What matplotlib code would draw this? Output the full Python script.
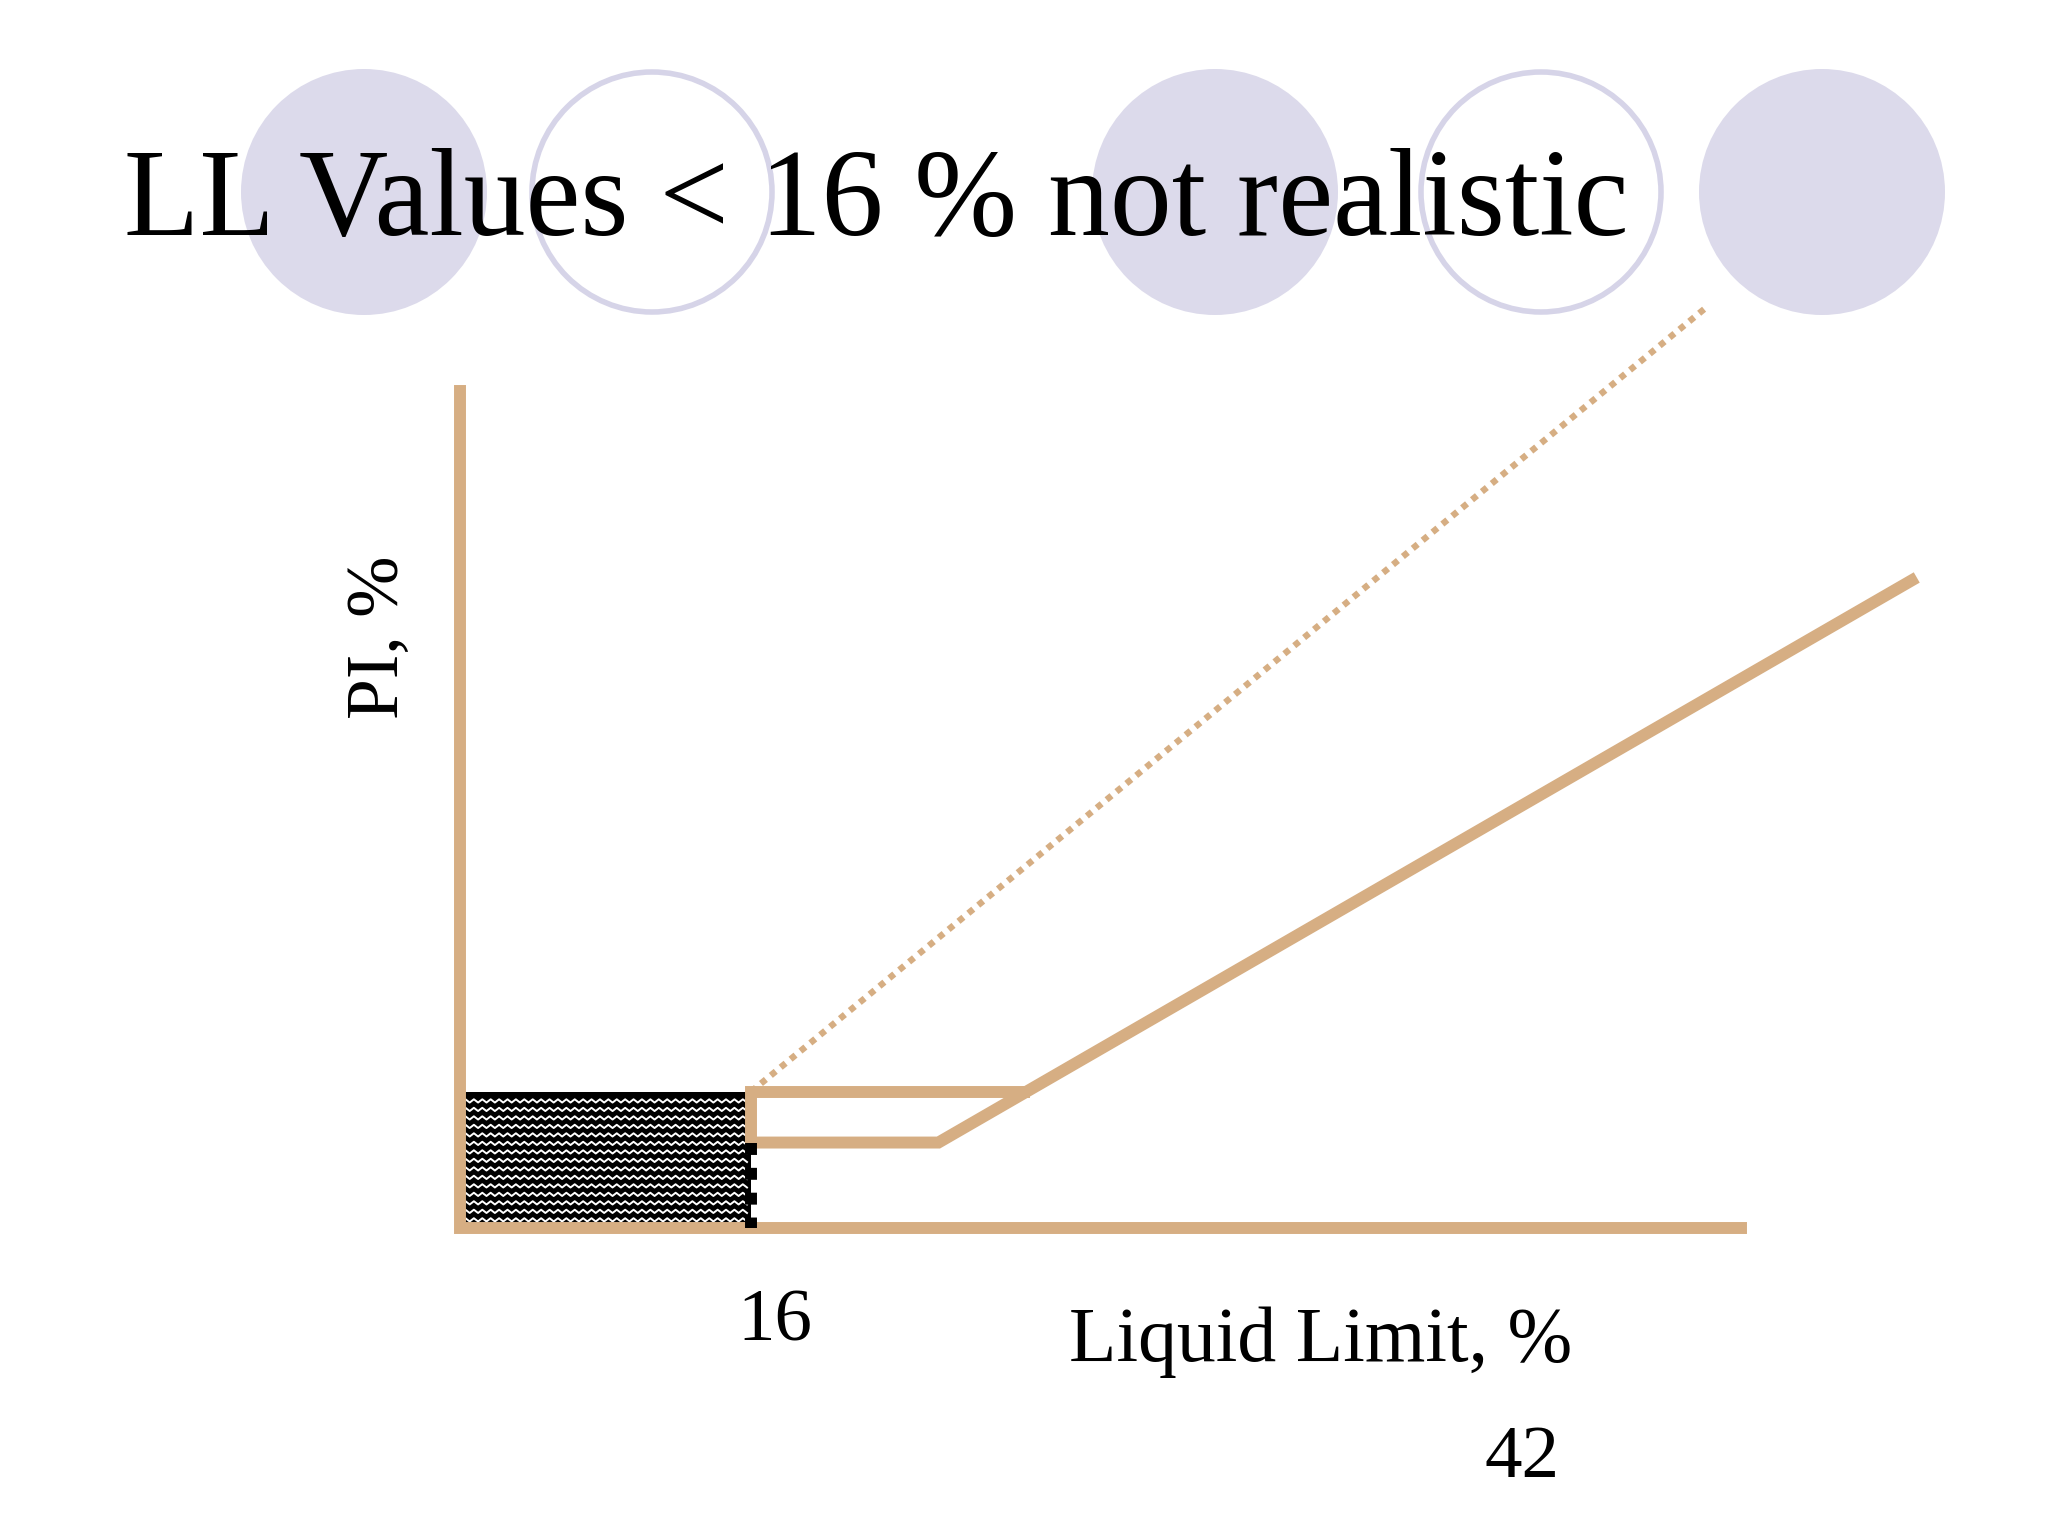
import numpy as np
import matplotlib
matplotlib.use("Agg")
import matplotlib.pyplot as plt
from matplotlib.patches import Circle, Rectangle

# schematic plasticity chart, values in LL / PI units
axis_x = [0, 0, 70.4]
axis_y = [46.0, 0, 0]
box_ll = [0, 16]
box_pi = [0, 7.5]
upper_x = [16, 16, 31.0]
upper_y = [4.7, 7.5, 7.5]
lower_x = [16, 26.3, 79.8]
lower_y = [4.7, 4.7, 35.6]
dotted_x = [16, 68.5]
dotted_y = [7.5, 50.6]
marker_ll = 16
marker_pi = [4.7, 0]

title = "LL Values < 16 % not realistic"
xlabel = "Liquid Limit, %"
ylabel = "PI, %"
ll_labels = [("16", 17.3, -6.2), ("42", 58.4, -13.7)]

# decorative circles at the top of the slide (pixels)
circle_x = [364, 652, 1215, 1541, 1822]
circle_filled = [True, False, True, False, True]

tan = "#d6ae83"
lav = "#dcdaeb"

fig = plt.figure(figsize=(20.48, 15.36), dpi=100)

bg = fig.add_axes([0, 0, 1, 1])
bg.set_xlim(0, 2048)
bg.set_ylim(1536, 0)
bg.axis("off")
for cx, filled in zip(circle_x, circle_filled):
    if filled:
        bg.add_patch(Circle((cx, 192), 123, facecolor=lav, edgecolor="none", zorder=1))
    else:
        bg.add_patch(Circle((cx, 192), 120, facecolor="none", edgecolor="#d6d4e8", lw=4, zorder=1))
bg.text(124, 235, title, fontsize=89, family="Liberation Serif", ha="left", va="baseline", zorder=3)

ax = fig.add_axes([0, 0, 1, 1])
ax.patch.set_alpha(0)
ax.set_xlim(-25.29, 87.30)
ax.set_ylim(-16.93, 67.51)
ax.axis("off")

# hatched black box with white wavy texture
ax.add_patch(Rectangle((box_ll[0], box_pi[0]), box_ll[1] - box_ll[0], box_pi[1] - box_pi[0],
                       facecolor="black", edgecolor="none", zorder=2))
zx = np.arange(box_ll[0] + 0.3, box_ll[1], 0.231)
for row in np.arange(box_pi[0] + 0.45, box_pi[1] - 0.1, 0.467):
    zy = row + np.where(np.arange(len(zx)) % 2 == 0, 0.09, -0.09)
    ax.plot(zx, zy, color="white", lw=1.4, zorder=3)

ax.plot(axis_x, axis_y, color=tan, lw=8.6, solid_joinstyle="miter", zorder=4)
ax.plot(upper_x, upper_y, color=tan, lw=8.6, solid_joinstyle="miter", zorder=4)
ax.plot(lower_x, lower_y, color=tan, lw=8.6, solid_joinstyle="miter", zorder=4)
ax.plot(dotted_x, dotted_y, color=tan, lw=4.6, linestyle=(0, (1, 1)),
        dash_capstyle="butt", zorder=4)
ax.plot([marker_ll, marker_ll], marker_pi, color="black", lw=8.6,
        linestyle=(0, (1.0, 1.08)), dash_capstyle="butt", zorder=5)

for txt, x, y in ll_labels:
    ax.text(x, y, txt, fontsize=54, family="Liberation Serif", ha="center", va="baseline")
ax.text(47.3, -7.3, xlabel, fontsize=56, family="Liberation Serif", ha="center", va="baseline")
ax.text(-4.4, 32.5, ylabel, fontsize=53, family="Liberation Serif",
        ha="center", va="center", rotation=90)

fig.savefig("out.png", dpi=100)
